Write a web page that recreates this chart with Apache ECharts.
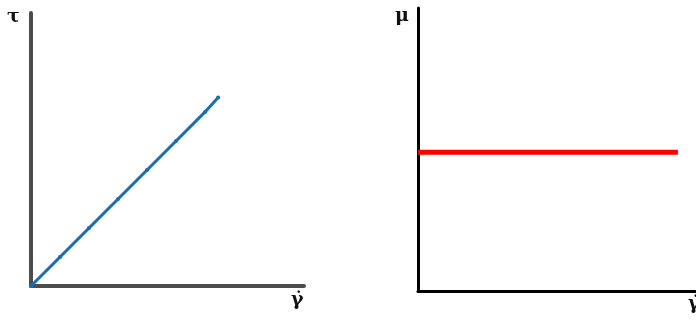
<!DOCTYPE html>
<html><head><meta charset="utf-8">
<script src="https://cdn.jsdelivr.net/npm/echarts@6/dist/echarts.min.js"></script>
<style>html,body{margin:0;padding:0;background:#fff}#c{width:696px;height:321px}</style>
</head><body><div id="c"></div>
<script>
// Left: shear stress vs shear rate (Newtonian, linear)
const shearRateLeft = [0, 1, 2, 3, 4, 5, 6, 6.45];
const shearStress   = [0, 1, 2, 3, 4, 5, 6, 6.5];
// Right: viscosity vs shear rate (constant)
const shearRateRight = [0, 9.35];
const viscosity      = [4.9, 4.9];
const labels = { tau: 'τ', gammaDot: 'γ̇', mu: 'μ' };

const chart = echarts.init(document.getElementById('c'));
const leftPts = shearRateLeft.map((x, i) => [x, shearStress[i]]);
const rightPts = shearRateRight.map((x, i) => [x, viscosity[i]]);
const axisCommon = (color, w) => ({
  type: 'value', min: 0,
  axisLine: { show: true, onZero: false, lineStyle: { color: color, width: w } },
  axisTick: { show: false }, axisLabel: { show: false }, splitLine: { show: false }
});
const font = '"DejaVu Serif","Liberation Serif",serif';
chart.setOption({
  animation: false,
  grid: [
    { left: 31, top: 13, width: 273, height: 273 },
    { left: 418, top: 8, width: 278, height: 283 }
  ],
  xAxis: [
    Object.assign(axisCommon('#4d4d4d', 4), { gridIndex: 0, max: 9.41 }),
    Object.assign(axisCommon('#000', 3), { gridIndex: 1, max: 10 })
  ],
  yAxis: [
    Object.assign(axisCommon('#4d4d4d', 4), { gridIndex: 0, max: 9.41 }),
    Object.assign(axisCommon('#000', 3), { gridIndex: 1, max: 10 })
  ],
  series: [
    { type: 'line', xAxisIndex: 0, yAxisIndex: 0, data: leftPts,
      lineStyle: { color: '#1a6db5', width: 3 }, itemStyle: { color: '#1a6db5' },
      symbol: 'circle', symbolSize: 4, showSymbol: true },
    { type: 'line', xAxisIndex: 1, yAxisIndex: 1, data: rightPts,
      lineStyle: { color: '#ff0000', width: 5 }, symbol: 'none' }
  ],
  graphic: [
    { type: 'text', left: 7, top: 8, style: { text: labels.tau, font: 'bold 19px ' + font, fill: '#111' } },
    { type: 'text', left: 291, top: 291, style: { text: labels.gammaDot, font: 'bold 19px ' + font, fill: '#111' } },
    { type: 'text', left: 395, top: 7, style: { text: labels.mu, font: 'bold 19px ' + font, fill: '#111' } },
    { type: 'text', left: 688, top: 295, style: { text: labels.gammaDot, font: 'bold 19px ' + font, fill: '#111' } }
  ]
});
</script></body></html>
